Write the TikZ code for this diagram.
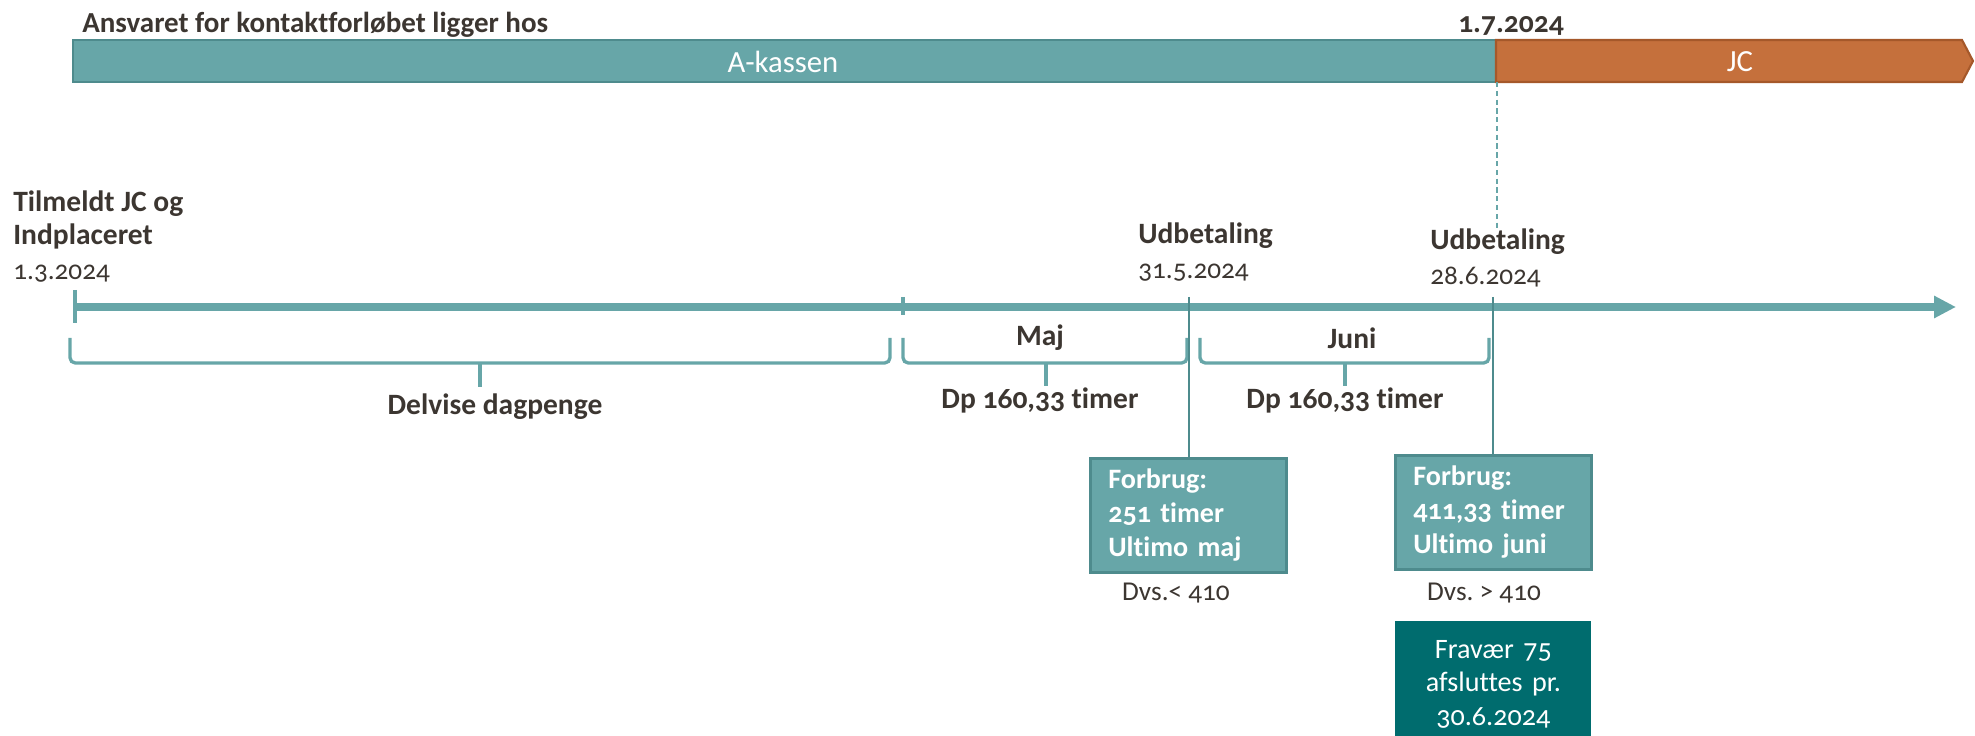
\documentclass[tikz,border=0pt]{standalone}
\usepackage{fontspec}
\setmainfont{Carlito}[Numbers=OldStyle,RawFeature={-liga;-clig;-calt}]
\usetikzlibrary{arrows.meta}

\definecolor{tealbar}{HTML}{67A6A8}
\definecolor{tealline}{HTML}{4E8B8D}
\definecolor{tealdeep}{HTML}{006C6E}
\definecolor{orangebar}{HTML}{C5703C}
\definecolor{orangeline}{HTML}{A5582A}
\definecolor{txtgray}{HTML}{3C3631}

\tikzset{
  lbl/.style={text=txtgray, inner sep=0pt, font=\fontsize{16.8}{19.3}\selectfont\bfseries},
  dato/.style={text=txtgray, inner sep=0pt, font=\fontsize{15.5}{19.3}\selectfont},
  bartxt/.style={text=white, inner sep=0pt, font=\fontsize{17.5}{20}\selectfont},
  tidslinje/.style={tealbar, line width=4.3pt, -{Triangle[length=12.5pt,width=12pt]}},
  tick/.style={tealbar, line width=1.8pt},
  stem/.style={tealline, line width=1.5pt},
  brace/.style={tealbar, line width=1.9pt, rounded corners=3pt},
  forbrug/.style={draw=tealline, line width=1.5pt, fill=tealbar, text=white, anchor=north west,
    font=\fontsize{16}{19.3}\selectfont\bfseries, align=left, inner xsep=0.36cm,
    text width=3.2cm, minimum height=2.28cm},
  fravaer/.style={fill=tealdeep, text=white, anchor=north west,
    font=\fontsize{16}{19.3}\selectfont, align=center, inner sep=0pt,
    text width=3.92cm, minimum height=2.52cm}
}

\begin{document}
\frenchspacing
\begin{tikzpicture}[x=0.02cm,y=-0.02cm]
\useasboundingbox (0,0) rectangle (1975,736);

% ansvar
\draw[draw=tealline, line width=1.2pt, fill=tealbar] (73,40) rectangle (1496,82);
\draw[draw=orangeline, line width=1.2pt, fill=orangebar]
  (1496,40) -- (1962,40) -- (1973,61) -- (1962,82) -- (1496,82) -- cycle;
\node[bartxt] (akasse) at (783,62) {A-kassen};
\node[bartxt] (jc) at (1740,62) {JC};
\node[lbl, anchor=west, font=\fontsize{16.5}{19}\selectfont\bfseries] (ansvar) at (82,25) {Ansvaret for kontaktforløbet ligger hos};
\node[lbl] (skift) at (1511,26) {1.7.2024};
\coordinate (grense) at (1497,82);
\coordinate (grenseend) at (1497,228);
\draw[tealbar, line width=0.7pt, dash pattern=on 3pt off 2pt] (grense) -- (grenseend);

% tidslinje
\coordinate (t1) at (75,307);
\coordinate (t2) at (903,307);
\coordinate (t3) at (1189,307);
\coordinate (t4) at (1493,307);
\coordinate (tend) at (1956,307);
\draw[tidslinje] (t1) -- (tend);
\draw[tick] (t1) ++(0,-17) -- ++(0,33);
\draw[tick] (t2) ++(0,-10) -- ++(0,18);

\node[lbl, anchor=west, align=left] (tilmeldt) at (13,220) {Tilmeldt JC og\\Indplaceret};
\node[dato, anchor=west] (start) at (13,274) {1.3.2024};
\node[lbl, anchor=west] (udbet1) at (1138,236) {Udbetaling};
\node[dato, anchor=west] (dato1) at (1138,273) {31.5.2024};
\node[lbl, anchor=west] (udbet2) at (1430,242) {Udbetaling};
\node[dato, anchor=west] (dato2) at (1430,277) {28.6.2024};

% perioder
\draw[brace] (70,338) |- (890,363) -- (890,338);
\draw[brace] (480,363) -- (480,387);
\node[lbl] (delvis) at (495,407) {Delvise dagpenge};

\draw[brace] (903,338) |- (1187,363) -- (1187,338);
\draw[brace] (1046,363) -- (1046,386);
\node[lbl] (maj) at (1040,338) {Maj};
\node[lbl] (dpmaj) at (1040,400) {Dp 160,33 timer};

\draw[brace] (1200,338) |- (1489,363) -- (1489,338);
\draw[brace] (1345,363) -- (1345,386);
\node[lbl] (juni) at (1352,338) {Juni};
\node[lbl] (dpjuni) at (1345,400) {Dp 160,33 timer};

% forbrug
\node[forbrug] (boks1) at (1089,457) {Forbrug:\\251 timer\\Ultimo maj};
\node[forbrug] (boks2) at (1394,454) {Forbrug:\\411,33 timer\\Ultimo juni};
\draw[stem] (t3) ++(0,-10) -- (t3 |- boks1.north);
\draw[stem] (t4) ++(0,-10) -- (t4 |- boks2.north);
\node[dato] (dvs1) at (1176,593) {Dvs.< 410};
\node[dato] (dvs2) at (1484,593) {Dvs. > 410};
\node[fravaer] (fravaer) at (1395,621) {Fravær 75\\afsluttes pr.\\30.6.2024};
\end{tikzpicture}
\end{document}
